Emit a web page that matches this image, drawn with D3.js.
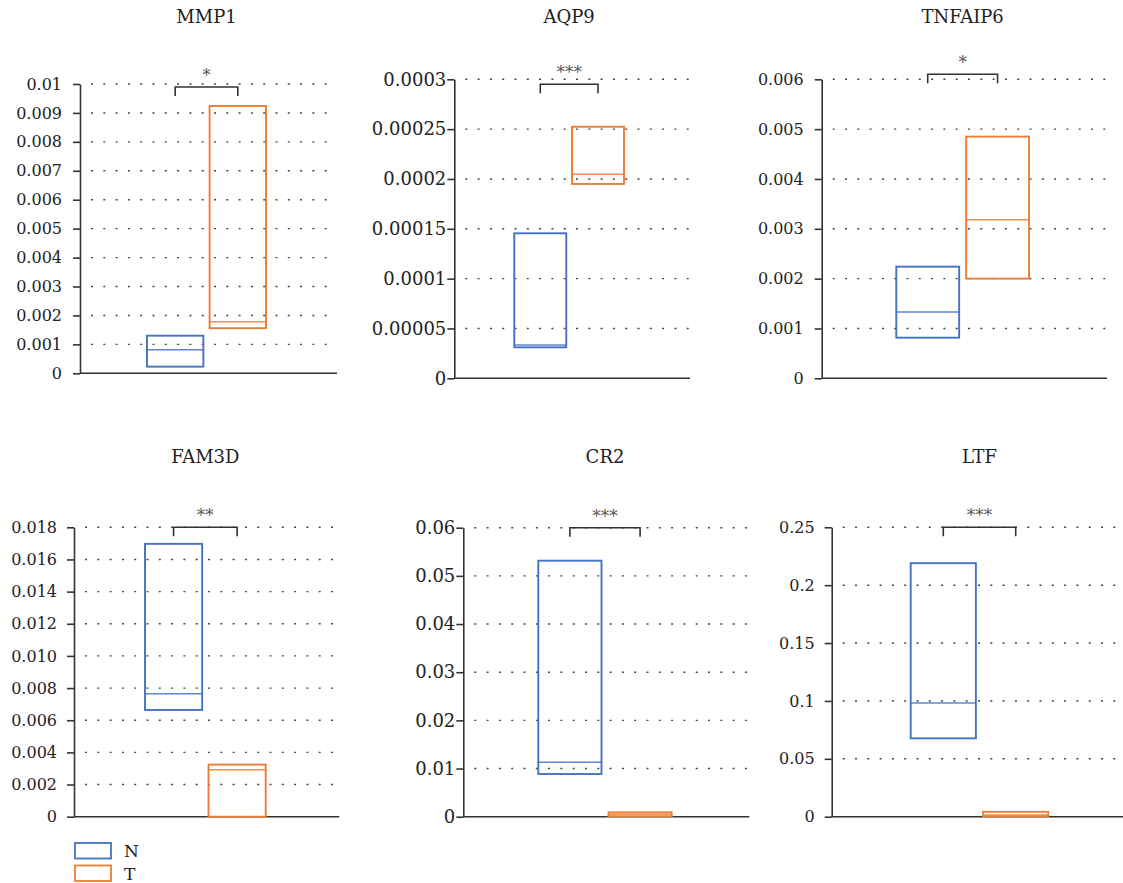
<!DOCTYPE html>
<html>
<head>
<meta charset="utf-8">
<script src="https://cdn.jsdelivr.net/npm/d3@7"></script>
<style>
  body { margin: 0; background: #fff; }
  svg { display: block; }
  text { font-family: "DejaVu Serif", "Liberation Serif", serif; fill: #222; }
</style>
</head>
<body>
<svg width="1123" height="883"></svg>
<script>
// values
var genes = ["MMP1", "AQP9", "TNFAIP6", "FAM3D", "CR2", "LTF"];
var groups = ["N", "T"];

var nMin = [0.00023, 0.0000311, 0.000815, 0.00664, 0.00886, 0.0677];
var nMedian = [0.00081, 0.0000334, 0.00133, 0.00765, 0.01129, 0.0982];
var nMax = [0.0013, 0.0001455, 0.00224, 0.01697, 0.05315, 0.219];

var tMin = [0.00156, 0.000195, 0.002, 0, 0.0001, 0.0004];
var tMedian = [0.00178, 0.0002047, 0.00318, 0.00292, 0.0005, 0.0015];
var tMax = [0.00924, 0.0002524, 0.00485, 0.00324, 0.0009, 0.0042];

var tickLabels = [
  ["0", "0.001", "0.002", "0.003", "0.004", "0.005", "0.006", "0.007", "0.008", "0.009", "0.01"],
  ["0", "0.00005", "0.0001", "0.00015", "0.0002", "0.00025", "0.0003"],
  ["0", "0.001", "0.002", "0.003", "0.004", "0.005", "0.006"],
  ["0", "0.002", "0.004", "0.006", "0.008", "0.010", "0.012", "0.014", "0.016", "0.018"],
  ["0", "0.01", "0.02", "0.03", "0.04", "0.05", "0.06"],
  ["0", "0.05", "0.1", "0.15", "0.2", "0.25"]
];

var stars = ["*", "***", "*", "**", "***", "***"];

var color = d3.scaleOrdinal().domain(groups).range(["#4472c4", "#ed7d31"]);

// panel geometry (pixels)
var layout = [
  { ax: 80, top: 84, bottom: 373.3, right: 337, boxL: 147, boxR: 266, fs: 16, pad: 11, bdy: 3 },
  { ax: 454.3, top: 79.3, bottom: 378.3, right: 690, boxL: 514.3, boxR: 624, fs: 18, pad: 1, bdy: 5 },
  { ax: 821.7, top: 79.3, bottom: 378.3, right: 1107, boxL: 896.3, boxR: 1029, fs: 16, pad: 11, bdy: -5 },
  { ax: 74, top: 527.3, bottom: 816.7, right: 339.3, boxL: 145, boxR: 265.7, fs: 16, pad: 10, bdy: 0 },
  { ax: 463.3, top: 527.7, bottom: 816.7, right: 749.3, boxL: 538.3, boxR: 671.7, fs: 18, pad: 1, bdy: 0 },
  { ax: 831.7, top: 527.3, bottom: 816.7, right: 1123, boxL: 910.7, boxR: 1048.3, fs: 16, pad: 10, bdy: 0 }
];

var svg = d3.select("svg");

genes.forEach(function (gene, i) {
  var L = layout[i];
  var labels = tickLabels[i];
  var ticks = labels.map(function (s) { return parseFloat(s); });

  var y = d3.scaleLinear()
    .domain([0, ticks[ticks.length - 1]])
    .range([L.bottom, L.top]);

  var x = d3.scaleBand()
    .domain(groups)
    .range([L.boxL, L.boxR])
    .paddingInner(0.1);

  var g = svg.append("g").attr("class", "panel");

  // dotted grid lines
  g.selectAll(".grid")
    .data(ticks.slice(1))
    .enter()
    .append("line")
    .attr("x1", L.ax + 11)
    .attr("x2", L.right)
    .attr("y1", function (d) { return y(d); })
    .attr("y2", function (d) { return y(d); })
    .attr("stroke", "#444")
    .attr("stroke-width", 1.4)
    .attr("stroke-dasharray", "2,10.3");

  // y axis
  var axis = g.append("g")
    .attr("transform", "translate(" + L.ax + ",0)")
    .call(d3.axisLeft(y)
      .tickValues(ticks)
      .tickFormat(function (d, j) { return labels[j]; })
      .tickSize(7)
      .tickSizeOuter(0)
      .tickPadding(L.pad));
  axis.select(".domain").attr("stroke", "#333").attr("stroke-width", 1.6);
  axis.selectAll(".tick line").attr("stroke", "#333").attr("stroke-width", 1.6);
  axis.selectAll(".tick text")
    .attr("fill", "#222")
    .style("font-family", "'DejaVu Serif', serif")
    .style("font-size", L.fs + "px");

  // baseline
  g.append("line")
    .attr("x1", L.ax)
    .attr("x2", L.right)
    .attr("y1", y(0))
    .attr("y2", y(0))
    .attr("stroke", "#333")
    .attr("stroke-width", 1.6);

  // boxes
  var boxes = groups.map(function (grp) {
    return grp == "N"
      ? { grp: grp, lo: nMin[i], mid: nMedian[i], hi: nMax[i] }
      : { grp: grp, lo: tMin[i], mid: tMedian[i], hi: tMax[i] };
  });

  g.selectAll(".box")
    .data(boxes)
    .enter()
    .append("rect")
    .attr("x", function (d) { return x(d.grp); })
    .attr("width", x.bandwidth())
    .attr("y", function (d) { return y(d.hi); })
    .attr("height", function (d) { return Math.max(1, y(d.lo) - y(d.hi)); })
    .attr("fill", "none")
    .attr("stroke", function (d) { return color(d.grp); })
    .attr("stroke-width", 1.9);

  g.selectAll(".median")
    .data(boxes)
    .enter()
    .append("line")
    .attr("x1", function (d) { return x(d.grp); })
    .attr("x2", function (d) { return x(d.grp) + x.bandwidth(); })
    .attr("y1", function (d) { return y(d.mid); })
    .attr("y2", function (d) { return y(d.mid); })
    .attr("stroke", function (d) { return color(d.grp); })
    .attr("stroke-opacity", 0.85)
    .attr("stroke-width", 1.5);

  // significance bracket
  var cx1 = x("N") + x.bandwidth() / 2;
  var cx2 = x("T") + x.bandwidth() / 2;
  var by = L.top + L.bdy;
  g.append("path")
    .attr("d", "M" + cx1 + "," + (by + 9) + "V" + by + "H" + cx2 + "V" + (by + 9))
    .attr("fill", "none")
    .attr("stroke", "#333")
    .attr("stroke-width", 1.6);

  g.append("text")
    .attr("x", (cx1 + cx2) / 2)
    .attr("y", by - 6)
    .attr("text-anchor", "middle")
    .style("font-size", "17px")
    .style("fill", "#555")
    .text(stars[i]);

  // title
  g.append("text")
    .attr("x", (L.boxL + L.boxR) / 2)
    .attr("y", i < 3 ? 23 : 463)
    .attr("text-anchor", "middle")
    .style("font-size", "18px")
    .text(gene);
});

// legend
var legend = svg.append("g").attr("transform", "translate(75,843)");
legend.selectAll("rect")
  .data(groups)
  .enter()
  .append("rect")
  .attr("x", 0)
  .attr("y", function (d, j) { return j * 22.5; })
  .attr("width", 36)
  .attr("height", 15.5)
  .attr("fill", "none")
  .attr("stroke", function (d) { return color(d); })
  .attr("stroke-width", 1.8);
legend.selectAll("text")
  .data(groups)
  .enter()
  .append("text")
  .attr("x", 49)
  .attr("y", function (d, j) { return j * 22.5 + 14; })
  .style("font-size", "17px")
  .text(function (d) { return d; });
</script>
</body>
</html>
